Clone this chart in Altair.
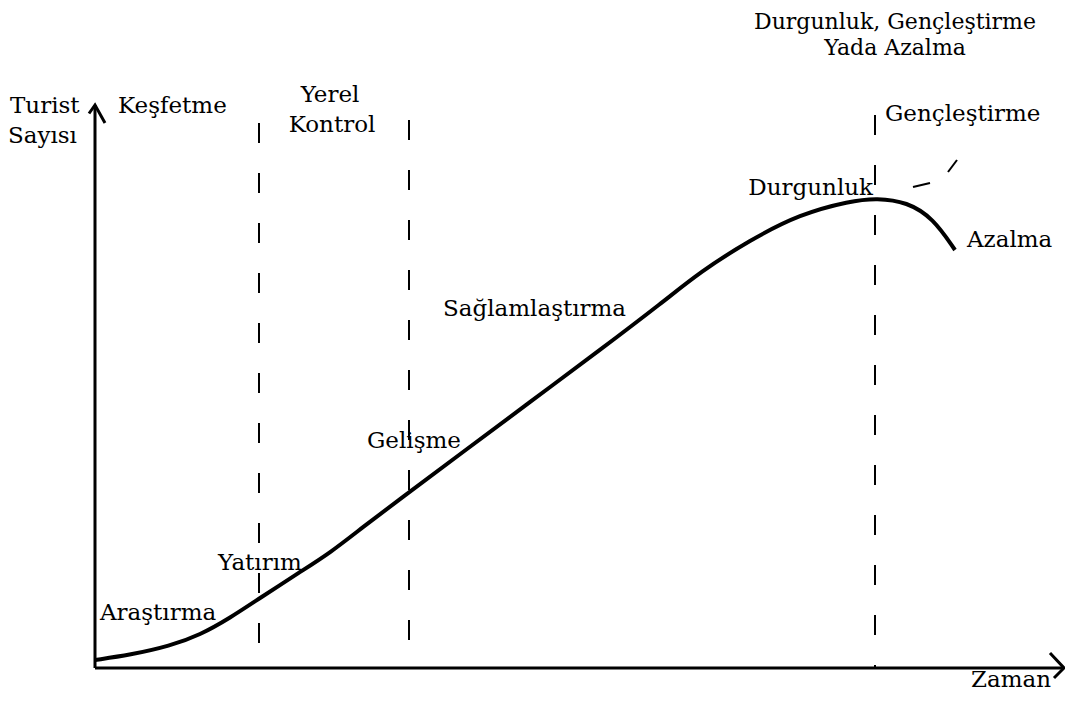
import altair as alt
import pandas as pd

# ---- data (time units, tourist-count units) ----
curve_time = [0.0, 3.5, 7.5, 10.5, 13.5, 16.5, 20.5, 23.5, 26.8, 30.5, 36.8, 43.5,
              50.5, 56.8, 60.5, 65.5, 70.5, 75.5, 78.2, 81.2, 83.8, 86.0]
curve_tourists = [1.6, 2.6, 4.4, 6.6, 10.0, 14.0, 19.2, 23.0, 28.2, 33.8, 43.2, 53.2,
                  63.6, 73.2, 79.2, 85.6, 90.8, 93.4, 94.0, 93.2, 90.0, 83.6]

stage_bounds = [16.4, 31.4, 78.0]
stage_tops = [109.0, 109.6, 110.6]

rejuv_seg = ["a", "a", "b", "b"]
rejuv_time = [81.8, 83.5, 85.3, 86.2]
rejuv_val = [96.2, 97.0, 99.2, 101.6]

label_text = ["Turist", "Sayısı", "Keşfetme", "Yerel", "Kontrol",
              "Durgunluk, Gençleştirme\nYada Azalma", "Gençleştirme",
              "Durgunluk", "Azalma", "Sağlamlaştırma", "Gelişme", "Yatırım",
              "Araştırma", "Zaman"]
label_time = [-8.5, -8.7, 2.3, 23.5, 23.7, 80.0, 79.0, 77.8, 87.2, 34.8,
              27.2, 12.3, 0.5, 95.6]
label_val = [111.0, 105.0, 111.0, 113.2, 107.2, 127.8, 109.4, 94.6, 84.2,
             70.4, 44.0, 19.6, 9.6, -3.8]
label_align = ["left", "left", "left", "center", "center", "center",
               "left", "right", "left", "left", "left", "left", "left", "right"]
label_size = [23, 23, 23, 23, 23, 22, 23, 23, 23, 23, 23, 23, 23, 23]

frame_part = ["yaxis", "yaxis", "xaxis", "xaxis", "yarrow", "yarrow", "yarrow",
              "xarrow", "xarrow", "xarrow"]
frame_time = [0.0, 0.0, 0.0, 96.9, -0.6, 0.0, 1.0, 95.5, 96.9, 95.9]
frame_val = [0.0, 112.6, 0.0, 0.0, 110.9, 112.6, 109.0, 3.0, 0.0, -2.0]

# ---- tables ----
curve_df = pd.DataFrame({"t": curve_time, "v": curve_tourists, "i": range(len(curve_time))})
stage_df = pd.DataFrame({"t": stage_bounds, "top": stage_tops, "bottom": [0.0] * 3})
rejuv_df = pd.DataFrame({"seg": rejuv_seg, "t": rejuv_time, "v": rejuv_val,
                         "i": range(len(rejuv_seg))})
label_df = pd.DataFrame({"text": label_text, "t": label_time, "v": label_val,
                         "align": label_align, "fs": label_size})
frame_df = pd.DataFrame({"part": frame_part, "t": frame_time, "v": frame_val,
                         "i": range(len(frame_part))})

xs = alt.Scale(domain=[-8.7, 97.0], nice=False, zero=False)
ys = alt.Scale(domain=[-5.0, 132.0], nice=False, zero=False)

X = lambda f="t": alt.X(f"{f}:Q", scale=xs, axis=None)
Y = lambda f="v": alt.Y(f"{f}:Q", scale=ys, axis=None)

curve = alt.Chart(curve_df).mark_line(
    color="black", strokeWidth=4, interpolate="basis", clip=False
).encode(x=X(), y=Y(), order="i:Q")

stages = alt.Chart(stage_df).mark_rule(
    color="black", strokeWidth=2, strokeDash=[20, 30]
).encode(x=X(), y=Y("top"), y2="bottom:Q")

rejuv = alt.Chart(rejuv_df).mark_line(color="black", strokeWidth=2).encode(
    x=X(), y=Y(), detail="seg:N", order="i:Q")

frame = alt.Chart(frame_df).mark_line(color="black", strokeWidth=3, clip=False).encode(
    x=X(), y=Y(), detail="part:N", order="i:Q")

def text_layer(al):
    return alt.Chart(label_df).transform_filter(
        alt.datum.align == al
    ).mark_text(
        align=al, baseline="alphabetic", font="DejaVu Serif",
        color="black", clip=False, lineBreak="\n", lineHeight=26
    ).encode(x=X(), y=Y(), text="text:N", size=alt.Size("fs:Q", scale=None, legend=None))

chart = alt.layer(
    stages, frame, rejuv, curve,
    text_layer("left"), text_layer("center"), text_layer("right")
).properties(
    width=1057, height=685, padding=0, autosize=alt.AutoSizeParams(type="none"),
    background="white"
).configure_view(stroke=None)

chart.save("out.html", embed_options={"renderer": "svg", "actions": False})
